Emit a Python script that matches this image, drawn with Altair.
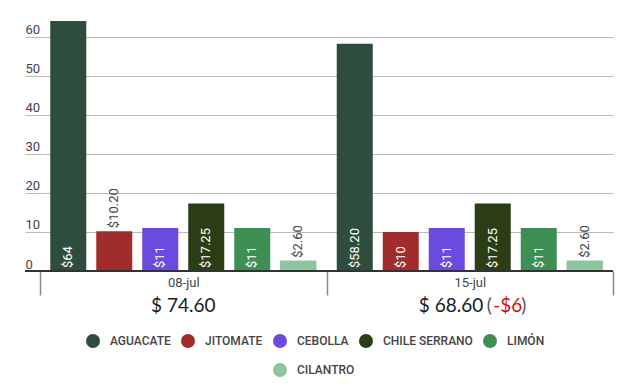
import altair as alt
import pandas as pd

fechas = ["08-jul", "15-jul"]
productos = ["AGUACATE", "JITOMATE", "CEBOLLA", "CHILE SERRANO", "LIMÓN", "CILANTRO"]
precios_08jul = [64, 10.2, 11, 17.25, 11, 2.6]
precios_15jul = [58.2, 10, 11, 17.25, 11, 2.6]
totales = ["$ 74.60", "$ 68.60"]
diferencias = ["", "-$6"]
colores = ["#2f4d3d", "#a12c2c", "#6a4be0", "#2b3d14", "#3f8f55", "#8cc59e"]

W, H = 573, 250
YMAX = 64


def fmt(v):
    return f"${int(v)}" if float(v).is_integer() else f"${v:.2f}"


rows = []
for fecha, serie in zip(fechas, [precios_08jul, precios_15jul]):
    for p, v in zip(productos, serie):
        lab = fmt(v)
        inside = v * H / YMAX > len(lab) * 6.9 + 6
        rows.append({"fecha": fecha, "producto": p, "producto2": p, "precio": v,
                     "etiqueta": lab, "dentro": inside})
df = pd.DataFrame(rows)
df_tot = pd.DataFrame({"fecha": fechas, "total": totales, "dif": diferencias})

x_enc = alt.X("fecha:N", sort=fechas, title=None,
              scale=alt.Scale(paddingInner=0, paddingOuter=0),
              axis=alt.Axis(domain=False, tickBand="extent", tickSize=24, tickColor="#888",
                            tickWidth=1.5, labelPadding=-19, labelFont="Roboto",
                            labelFontSize=13, labelColor="#444", labelAngle=0, grid=False))
xo_enc = alt.XOffset("producto:N", sort=productos,
                     scale=alt.Scale(domain=productos, paddingInner=0.217, paddingOuter=0.223))
y_scale = alt.Scale(domain=[0, YMAX], nice=False)
y_enc = alt.Y("precio:Q", title=None, scale=y_scale,
              axis=alt.Axis(values=[0, 10, 20, 30, 40, 50, 60], grid=True, gridColor="#bbb",
                            tickSize=15, tickColor="#bbb", domain=False, labelAlign="left",
                            labelBaseline="alphabetic", labelPadding=0, labelOffset=-3,
                            labelFont="Roboto", labelFontSize=13, labelColor="#444"))

leg_common = dict(orient="none", direction="horizontal", title=None, symbolType="circle",
                  symbolSize=196, symbolStrokeWidth=0, symbolOpacity=1, labelOffset=10,
                  columnPadding=10, padding=0, labelFont="Roboto", labelFontWeight=500,
                  labelFontSize=12, labelColor="#444")

bars = alt.Chart(df).mark_bar().encode(
    x=x_enc, xOffset=xo_enc, y=y_enc,
    color=alt.Color("producto:N", scale=alt.Scale(domain=productos, range=colores),
                    legend=alt.Legend(values=productos[:5], legendX=46, legendY=313, **leg_common)),
)

bars2 = alt.Chart(df).transform_filter(alt.datum.producto == "CILANTRO").mark_bar().encode(
    x=x_enc, xOffset=xo_enc, y=y_enc,
    fill=alt.Fill("producto2:N", scale=alt.Scale(domain=["CILANTRO"], range=[colores[5]]),
                  legend=alt.Legend(legendX=233, legendY=342, **leg_common)),
)

lab_in = alt.Chart(df).transform_filter(alt.datum.dentro).mark_text(
    angle=270, align="left", baseline="middle", dx=3, font="Roboto", fontSize=13, color="white"
).encode(x=x_enc, xOffset=xo_enc, y=alt.datum(0, scale=y_scale), text="etiqueta:N")

lab_out = alt.Chart(df).transform_filter(~alt.datum.dentro).mark_text(
    angle=270, align="left", baseline="middle", dx=3, font="Roboto", fontSize=13, color="#444"
).encode(x=x_enc, xOffset=xo_enc, y=y_enc, text="etiqueta:N")

zero = alt.Chart(pd.DataFrame({"v": [0]})).mark_rule(color="#333", strokeWidth=2).encode(
    y=alt.Y("v:Q", scale=y_scale), x=alt.value(-15), x2=alt.value(W))

tot_font = dict(font="Lato", fontSize=19, baseline="alphabetic")
tot1 = alt.Chart(df_tot).transform_filter(alt.datum.dif == "").mark_text(
    align="center", color="#1a1a1a", **tot_font).encode(x=x_enc, y=alt.value(291), text="total:N")
tot2 = alt.Chart(df_tot).transform_filter(alt.datum.dif != "").mark_text(
    align="right", dx=13.5, color="#1a1a1a", **tot_font).encode(x=x_enc, y=alt.value(291), text="total:N")
par1 = alt.Chart(df_tot).transform_filter(alt.datum.dif != "").mark_text(
    align="left", dx=17, color="#555", text="(", **tot_font).encode(x=x_enc, y=alt.value(291))
dif = alt.Chart(df_tot).transform_filter(alt.datum.dif != "").mark_text(
    align="left", dx=23.5, color="#cc1111", **tot_font).encode(x=x_enc, y=alt.value(291), text="dif:N")
par2 = alt.Chart(df_tot).transform_filter(alt.datum.dif != "").mark_text(
    align="left", dx=51.5, color="#555", text=")", **tot_font).encode(x=x_enc, y=alt.value(291))

chart = alt.layer(bars, bars2, lab_in, lab_out, zero, tot1, tot2, par1, dif, par2).properties(
    width=W, height=H,
    autosize=alt.AutoSizeParams(type="none"),
    padding={"left": 32, "top": 13, "right": 10, "bottom": 108},
).configure_view(stroke=None)

chart.save("out.html", embed_options={"renderer": "svg", "actions": False})
